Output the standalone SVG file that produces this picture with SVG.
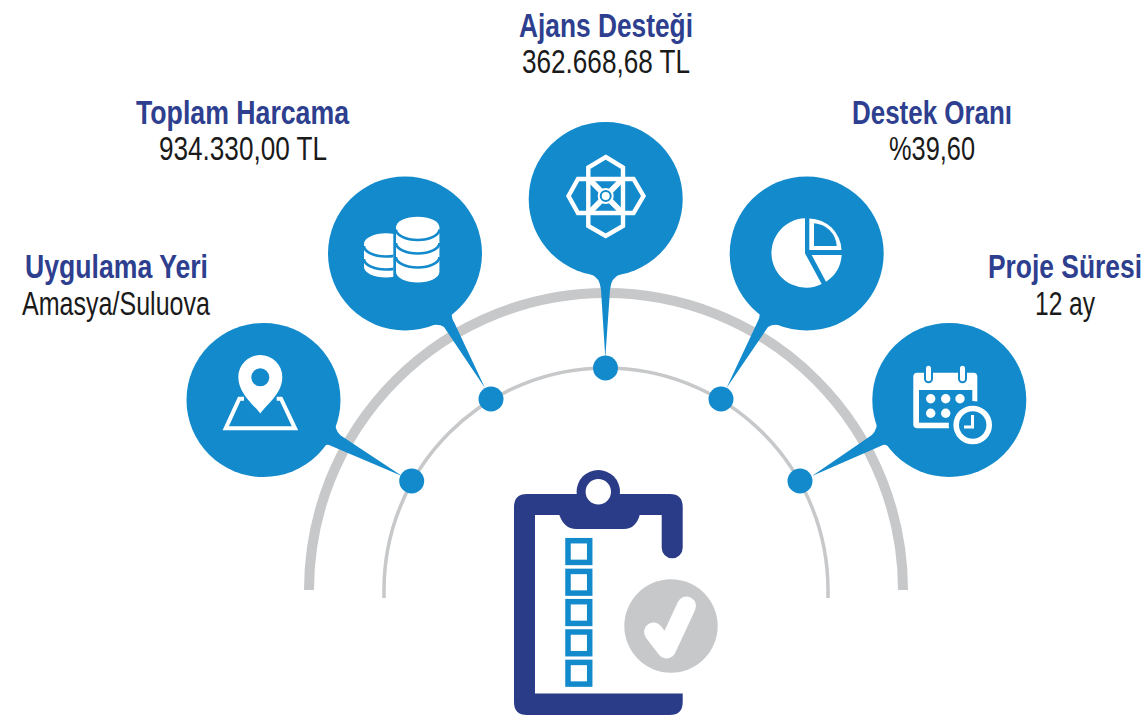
<svg xmlns="http://www.w3.org/2000/svg" width="1147" height="715" viewBox="0 0 1147 715">
<style>
.b{fill:#128acb}.w{fill:#fff}.g{fill:none;stroke:#c7c8ca}
.t{font-family:"Liberation Sans",Arial,sans-serif;font-size:33px}
.h{font-weight:700;fill:#2e3f8f}.v{fill:#1a1a1a}
.ln{fill:none;stroke:#fff;stroke-width:4}
.sq{fill:#fff;stroke:#128acb;stroke-width:5.5}
</style>
<defs><clipPath id="cl"><rect x="360" y="225" width="33.3" height="60"/></clipPath></defs>
<rect width="1147" height="715" fill="#fff"/>
<g id="connectors">
<path class="g" stroke-width="10" d="M309,590 A297,297 0 0 1 903,590"/>
<path class="g" stroke-width="3.5" d="M384,598 V590 A222,222 0 0 1 828,590 V598"/>
</g>
<g id="node-uygulama">
<circle class="b" cx="263.5" cy="400" r="77"/>
<path class="b" d="M335,424 Q336,433 343,437 L402,476 L329,445 Q325,444 320,450Z"/>
<path class="ln" d="M244,398.7 H239.3 L225.7,428.3 H295 L281,398.7 H276.7"/>
<path class="w" d="M260.3,413.5 C252,403 238.3,393 238.3,377 A22,22 0 0 1 282.3,377 C282.3,393 268.5,403 260.3,413.5Z"/>
<circle class="b" cx="260.3" cy="377.3" r="9"/>
<text class="t h" x="25" y="278" textLength="183" lengthAdjust="spacingAndGlyphs">Uygulama Yeri</text>
<text class="t v" x="22" y="315" textLength="188" lengthAdjust="spacingAndGlyphs">Amasya/Suluova</text>
</g>
<g id="node-harcama">
<circle class="b" cx="405" cy="253.5" r="77"/>
<path class="b" d="M452,310 Q451,318 454,322 L485,388 L444,327 Q440,324 432,325Z"/>
<g clip-path="url(#cl)">
<path class="w" d="M364,243.8 A22,10.5 0 0 1 408,243.8 V267 A22,10.5 0 0 1 364,267Z"/>
<path d="M364,246 A22,10.5 0 0 0 408,246 M364,259 A22,10.5 0 0 0 408,259" fill="none" stroke="#128acb" stroke-width="2.6"/>
</g>
<path class="w" d="M396,227.2 A21.7,10.5 0 0 1 439.4,227.2 V272 A21.7,10.5 0 0 1 396,272Z"/>
<path d="M396,229.5 A21.7,10.5 0 0 0 439.4,229.5 M396,243 A21.7,10.5 0 0 0 439.4,243 M396,257 A21.7,10.5 0 0 0 439.4,257" fill="none" stroke="#128acb" stroke-width="2.6"/>
<text class="t h" x="136" y="124" textLength="213" lengthAdjust="spacingAndGlyphs">Toplam Harcama</text>
<text class="t v" x="159" y="160" textLength="168" lengthAdjust="spacingAndGlyphs">934.330,00 TL</text>
</g>
<g id="node-ajans">
<circle class="b" cx="605.7" cy="199" r="77"/>
<path class="b" d="M590,274 Q600,277 601,290 L605.3,358 L610,290 Q611,277 621,274Z"/>
<g fill="none" stroke="#fff" stroke-width="4.4">
<path d="M605.7,157 L623,167.5 V226 L605.7,236 L588.3,226 V167.5Z"/>
<path d="M568.5,196 L578,179 H633.5 L643.5,196 L633.5,213 H578Z"/>
<path d="M590,180 L621.5,212 M621.5,180 L590,212" stroke-width="5.5"/>
</g>
<circle cx="605.7" cy="196" r="8" fill="#fff"/>
<circle cx="605.7" cy="196" r="5" fill="#fff" stroke="#128acb" stroke-width="2"/>
<text class="t h" x="519" y="37" textLength="174" lengthAdjust="spacingAndGlyphs">Ajans Desteği</text>
<text class="t v" x="522" y="73" textLength="168" lengthAdjust="spacingAndGlyphs">362.668,68 TL</text>
</g>
<g id="node-destek">
<circle class="b" cx="806.7" cy="253.5" r="77"/>
<path class="b" d="M759.5,310 Q760.5,318 757.5,322 L726.5,388 L768,327 Q772,324 780,325Z"/>
<path class="w" d="M805,218.3 A34.7,34.7 0 1 0 821.7,284 L805,253.3Z"/>
<path class="w" d="M809.3,218.5 A32.5,32.5 0 0 1 841.5,250 H809.3Z"/>
<path class="b" d="M814,223.3 A24,24 0 0 1 836.7,246 H814Z"/>
<path class="w" d="M811.7,255 H841.7 A34.7,34.7 0 0 1 826,281.7Z"/>
<text class="t h" x="852" y="124" textLength="160" lengthAdjust="spacingAndGlyphs">Destek Oranı</text>
<text class="t v" x="889" y="160" textLength="86" lengthAdjust="spacingAndGlyphs">%39,60</text>
</g>
<g id="node-sure">
<circle class="b" cx="949.3" cy="400" r="77"/>
<path class="b" d="M877,424 Q876,433 869,437 L812,476 L883,445 Q887,444 892,450Z"/>
<rect class="w" x="913.3" y="372.7" width="64" height="55.6" rx="4"/>
<rect class="b" x="919" y="390" width="53.3" height="32.7"/>
<g class="w" stroke="#128acb" stroke-width="2">
<rect x="925" y="364.7" width="7" height="17.5" rx="3.5"/>
<rect x="959" y="364.7" width="7" height="17.5" rx="3.5"/>
</g>
<g class="w">
<circle cx="930.7" cy="398.7" r="4.7"/><circle cx="945.7" cy="398.7" r="4.7"/><circle cx="960" cy="398.7" r="4.7"/>
<circle cx="930.7" cy="413.3" r="4.7"/><circle cx="945.7" cy="413.3" r="4.7"/>
</g>
<circle class="b" cx="972.7" cy="425" r="24"/>
<circle cx="972.7" cy="425" r="16.5" fill="#128acb" stroke="#fff" stroke-width="5.6"/>
<path d="M972.5,415 V427 H964" fill="none" stroke="#fff" stroke-width="3"/>
<text class="t h" x="1142" y="278" text-anchor="end" textLength="154" lengthAdjust="spacingAndGlyphs">Proje Süresi</text>
<text class="t v" x="1035" y="315" textLength="60" lengthAdjust="spacingAndGlyphs">12 ay</text>
</g>
<g id="dots" class="b">
<circle cx="411.7" cy="481" r="12.5"/>
<circle cx="491" cy="399" r="12.5"/>
<circle cx="605.5" cy="368" r="12.5"/>
<circle cx="721" cy="399" r="12.5"/>
<circle cx="800" cy="481" r="12.5"/>
</g>
<g id="clipboard">
<circle cx="598.3" cy="491.7" r="21.7" fill="#2a3b87"/>
<path fill="#2a3b87" d="M527,494 H669.7 Q682.7,494 682.7,507 V547.8 A10.5,10.5 0 0 1 661.7,547.8 V515 H535 V693.5 H682.7 V702 Q682.7,715 669.7,715 H527 Q514,715 514,702 V507 Q514,494 527,494Z"/>
<path fill="#2a3b87" d="M559,514 H640 Q636,529 624,529 H576 Q564,529 559,514Z"/>
<circle class="w" cx="598.3" cy="491.7" r="12.7"/>
<rect class="sq" x="568" y="540.7" width="21.7" height="21.7"/>
<rect class="sq" x="568" y="571.4" width="21.7" height="21.7"/>
<rect class="sq" x="568" y="601.7" width="21.7" height="21.7"/>
<rect class="sq" x="568" y="632" width="21.7" height="21.7"/>
<rect class="sq" x="568" y="662.4" width="21.7" height="21.7"/>
<circle cx="671" cy="626" r="46.7" fill="#c7c8ca"/>
<path d="M653.5,632 L666.5,649 L686.5,606" fill="none" stroke="#fff" stroke-width="19" stroke-linecap="round" stroke-linejoin="round"/>
</g>
</svg>
